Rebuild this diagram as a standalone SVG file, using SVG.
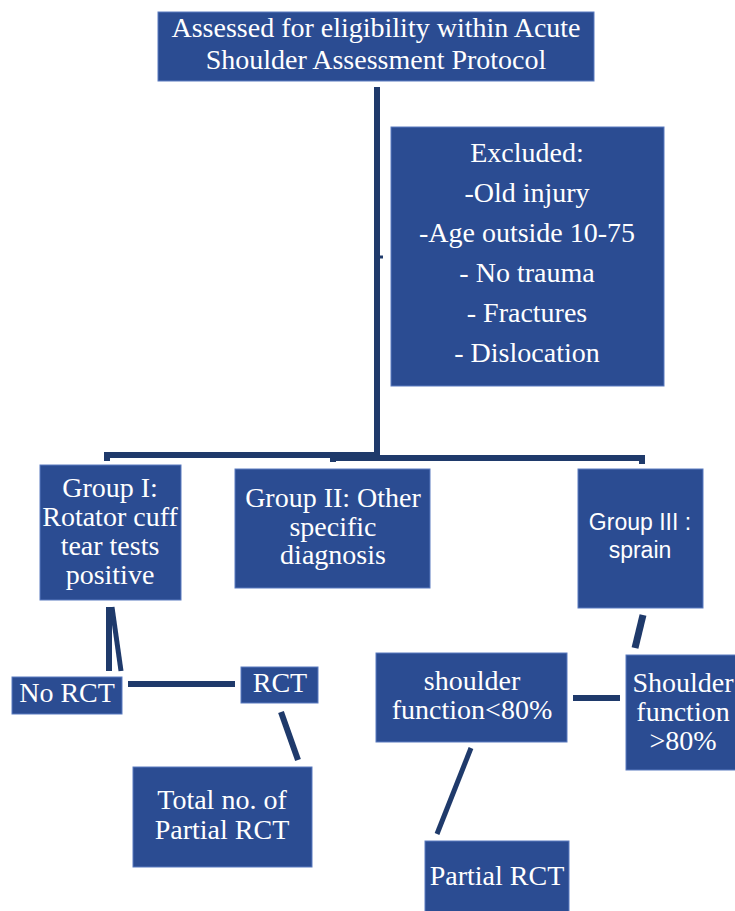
<svg xmlns="http://www.w3.org/2000/svg" width="735" height="911" viewBox="0 0 735 911">
<style>
.box{fill:#2B4C92;stroke:#5B7BC0;stroke-width:1}
.t{font-family:"Liberation Serif","Times New Roman",serif;font-size:28px;fill:#FFFFFF;text-anchor:middle}
.s{font-family:"Liberation Sans",Arial,sans-serif;font-size:23px;fill:#FFFFFF;text-anchor:middle}
.c{stroke:#1F3A6B;stroke-width:6;fill:none;stroke-linecap:butt}
</style>
<rect width="735" height="911" fill="#FFFFFF"/>
<g id="connectors">
<line class="c" x1="377" y1="87" x2="377" y2="458"/>
<line class="c" x1="377" y1="257" x2="383" y2="257" style="stroke-width:3"/>
<polyline class="c" points="107,461 107,455 377,455"/>
<polyline class="c" points="333,462 333,458 642,458 642,464"/>
<line class="c" x1="643" y1="615" x2="635" y2="648" style="stroke-width:7"/>
<line class="c" x1="109" y1="607" x2="109" y2="671"/>
<line class="c" x1="112" y1="607" x2="121" y2="671" style="stroke-width:5"/>
<line class="c" x1="128" y1="684" x2="235" y2="684"/>
<line class="c" x1="281" y1="712" x2="298" y2="760"/>
<line class="c" x1="573" y1="698" x2="620" y2="698"/>
<line class="c" x1="471" y1="748" x2="437" y2="834" style="stroke-width:5"/>
</g>
<g id="n_top">
<rect class="box" x="158" y="12" width="436" height="69"/>
<text class="t" x="376" y="37">Assessed for eligibility within Acute</text>
<text class="t" x="376" y="69">Shoulder Assessment Protocol</text>
</g>
<g id="n_excluded">
<rect class="box" x="391" y="127" width="273" height="259"/>
<text class="t" x="527" y="162">Excluded:</text>
<text class="t" x="527" y="202">-Old injury</text>
<text class="t" x="527" y="242">-Age outside 10-75</text>
<text class="t" x="527" y="282">- No trauma</text>
<text class="t" x="527" y="322">- Fractures</text>
<text class="t" x="527" y="362">- Dislocation</text>
</g>
<g id="n_group1">
<rect class="box" x="40" y="465" width="141" height="135"/>
<text class="t" x="110" y="497">Group I:</text>
<text class="t" x="110" y="526">Rotator cuff</text>
<text class="t" x="110" y="555">tear tests</text>
<text class="t" x="110" y="584">positive</text>
</g>
<g id="n_group2">
<rect class="box" x="235" y="469" width="195" height="119"/>
<text class="t" x="333" y="507">Group II: Other</text>
<text class="t" x="333" y="536">specific</text>
<text class="t" x="333" y="564">diagnosis</text>
</g>
<g id="n_group3">
<rect class="box" x="578" y="469" width="125" height="139"/>
<text class="s" x="640" y="530">Group III :</text>
<text class="s" x="640" y="558">sprain</text>
</g>
<g id="n_norct">
<rect class="box" x="12" y="677" width="110" height="37"/>
<text class="t" x="67" y="702">No RCT</text>
</g>
<g id="n_rct">
<rect class="box" x="241" y="667" width="77" height="36"/>
<text class="t" x="280" y="692">RCT</text>
</g>
<g id="n_total">
<rect class="box" x="133" y="767" width="179" height="100"/>
<text class="t" x="222" y="809">Total no. of</text>
<text class="t" x="222" y="839">Partial RCT</text>
</g>
<g id="n_sf_low">
<rect class="box" x="376" y="653" width="191" height="89"/>
<text class="t" x="472" y="690">shoulder</text>
<text class="t" x="472" y="719">function&lt;80%</text>
</g>
<g id="n_sf_high">
<rect class="box" x="626" y="655" width="114" height="115"/>
<text class="t" x="683" y="692">Shoulder</text>
<text class="t" x="683" y="721">function</text>
<text class="t" x="683" y="750">&gt;80%</text>
</g>
<g id="n_partial">
<rect class="box" x="425" y="841" width="144" height="75"/>
<text class="t" x="497" y="885">Partial RCT</text>
</g>
</svg>
